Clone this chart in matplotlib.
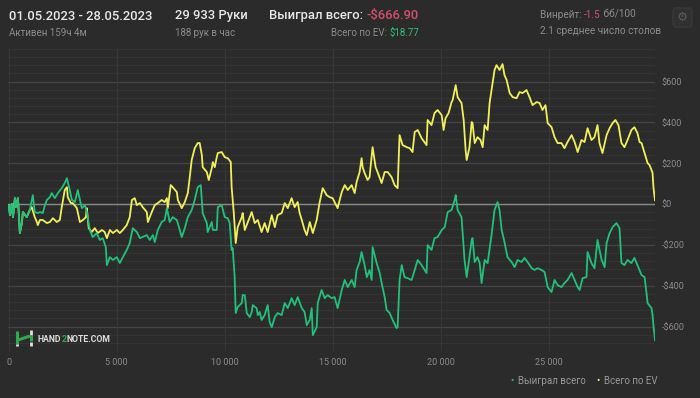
import matplotlib
matplotlib.use("Agg")
import matplotlib.pyplot as plt
from matplotlib.lines import Line2D
from matplotlib.patches import FancyBboxPatch

plt.rcParams['font.family'] = ['Roboto', 'DejaVu Sans']
plt.rcParams['text.parse_math'] = False

# ---------------- data ----------------
won_hands = [0, 50, 140, 190, 280, 320, 420, 510, 600, 650, 830, 970, 1110, 1200, 1340, 1440, 1570, 1670,
             1760, 1900, 1990, 2130, 2270, 2450, 2590, 2690, 2820, 2920, 3060, 3190, 3380, 3520, 3610, 3750,
             3890, 4070, 4210, 4350, 4490, 4540, 4680, 4820, 5000, 5140, 5280, 5460, 5600, 5740, 5930, 6070,
             6390, 6530, 6670, 6760, 6900, 7080, 7220, 7320, 7450, 7590, 7780, 7920, 8010, 8150, 8290, 8470,
             8610, 8750, 8890, 8980, 9170, 9210, 9400, 9450, 9630, 9680, 9860, 10000, 10140, 10230, 10320,
             10370, 10460, 10510, 10600, 10790, 10830, 10930, 11020, 11160, 11250, 11300, 11480, 11530, 11620,
             11710, 11850, 11990, 12080, 12180, 12320, 12450, 12640, 12780, 12920, 13100, 13240, 13380, 13570,
             13700, 13800, 13940, 14030, 14080, 14260, 14310, 14490, 14630, 14770, 14950, 15090, 15230, 15420,
             15560, 15700, 15880, 16020, 16110, 16250, 16340, 16480, 16580, 16710, 16810, 16850, 17040, 17180,
             17270, 17410, 17500, 17640, 17780, 17960, 18010, 18100, 18200, 18330, 18470, 18660, 18800, 18940,
             19120, 19260, 19350, 19400, 19580, 19720, 19860, 20050, 20190, 20330, 20510, 20650, 20700, 20790,
             20970, 21110, 21210, 21300, 21440, 21480, 21580, 21710, 21810, 21900, 22040, 22180, 22360, 22500,
             22640, 22730, 22830, 22960, 23100, 23290, 23430, 23570, 23750, 23890, 24030, 24220, 24350, 24490,
             24680, 24820, 24960, 25140, 25280, 25420, 25600, 25740, 25880, 26070, 26210, 26350, 26440, 26580,
             26760, 26810, 26990, 27130, 27270, 27460, 27600, 27690, 27830, 27970, 28150, 28290, 28380, 28520,
             28660, 28840, 28980, 29120, 29310, 29450, 29540, 29590, 29770, 29820, 29860, 29933]
won_usd = [-5, -54, 0, -64, 29, -15, 29, -142, -93, -39, -64, -29, 44, -39, -44, -39, -44, -5,
           20, 34, 54, 29, 54, 78, 103, 127, 69, 20, 10, 69, -20, -5, -39, -127,
           -162, -142, -176, -167, -211, -299, -260, -274, -260, -289, -260, -225, -191, -118, -137, -167,
           -152, -176, -152, -186, -127, -88, -78, -20, -88, -64, -78, -127, -162, -118, -64, -29,
           20, 83, 93, -44, -93, -137, -88, -127, -127, -15, -5, -64, -69, -93, -225,
           -216, -358, -534, -505, -485, -446, -446, -534, -554, -529, -495, -510, -544, -529,
           -568, -544, -495, -578, -603, -554, -534, -544, -485, -510, -461, -495, -456, -510,
           -529, -593, -568, -510, -642, -603, -485, -421, -461, -446, -461, -456, -510, -421,
           -372, -407, -372, -407, -323, -284, -235, -299, -358, -323, -372, -211, -289, -338,
           -387, -456, -519, -534, -568, -608, -603, -372, -299, -358, -363, -372, -323, -274,
           -299, -323, -338, -201, -225, -167, -162, -127, -113, -39, -29, 20, 44, -29,
           -64, -274, -358, -289, -176, -167, -284, -260, -289, -387, -274, -289, -152, -29,
           10, -29, -127, -186, -260, -284, -309, -274, -284, -264, -284, -314, -323, -314,
           -323, -333, -407, -431, -372, -397, -407, -387, -372, -338, -372, -407, -421, -363,
           -358, -235, -289, -314, -176, -274, -309, -191, -142, -113, -93, -118, -289, -299,
           -274, -289, -264, -299, -348, -358, -436, -485, -510, -544, -593, -666.90]

ev_hands = [0, 50, 140, 190, 280, 320, 420, 510, 600, 650, 830, 970, 1060, 1200, 1300, 1340, 1440, 1570,
            1760, 1900, 2040, 2220, 2360, 2450, 2590, 2690, 2730, 2870, 2960, 3150, 3290, 3430, 3570, 3610,
            3700, 3840, 3980, 4120, 4310, 4440, 4540, 4680, 4820, 5000, 5140, 5280, 5460, 5600, 5700, 5830,
            5930, 6070, 6200, 6390, 6440, 6620, 6760, 6900, 7080, 7220, 7320, 7360, 7500, 7590, 7780, 7830,
            8010, 8150, 8290, 8380, 8470, 8610, 8750, 8840, 8940, 8980, 9170, 9260, 9400, 9450, 9540, 9630,
            9680, 9860, 10000, 10140, 10280, 10320, 10420, 10510, 10600, 10790, 10830, 10930, 11070, 11250,
            11390, 11530, 11710, 11850, 11990, 12180, 12320, 12450, 12640, 12780, 12920, 13100, 13240, 13380,
            13470, 13570, 13700, 13800, 13940, 14080, 14260, 14400, 14540, 14720, 14860, 15000, 15230, 15420,
            15560, 15700, 15880, 16020, 16110, 16250, 16340, 16390, 16480, 16620, 16710, 16850, 16990, 17080,
            17270, 17410, 17550, 17730, 17870, 18010, 18100, 18240, 18430, 18570, 18700, 18800, 18940, 19120,
            19350, 19400, 19580, 19720, 19860, 20050, 20140, 20230, 20370, 20510, 20560, 20700, 20790, 20970,
            21070, 21160, 21210, 21340, 21440, 21480, 21580, 21710, 21850, 21950, 22040, 22180, 22270, 22410,
            22500, 22590, 22730, 22870, 22960, 23060, 23200, 23340, 23520, 23660, 23800, 23980, 24120, 24260,
            24450, 24590, 24720, 24860, 24960, 25140, 25280, 25420, 25600, 25740, 25880, 26070, 26210, 26350,
            26530, 26670, 26810, 26990, 27130, 27270, 27360, 27500, 27690, 27830, 27970, 28100, 28240, 28380,
            28520, 28660, 28840, 28980, 29120, 29220, 29310, 29450, 29590, 29680, 29770, 29820, 29860, 29933]
ev_usd = [-5, -54, 0, -64, 29, -15, 29, -142, -93, -39, -64, -29, -15, -64, -88, -103, -78, -78,
          -93, -88, -69, -88, -78, -15, 69, 83, 34, 5, 5, -20, -88, -78, -64, -20,
          -118, -137, -118, -142, -127, -137, -167, -127, -142, -127, -142, -127, -103, -64, 20, 29,
          -5, 5, -15, -39, -88, -39, -5, 5, 20, 10, 29, -20, 93, 83, 59, 20,
          -20, 10, 54, 132, 216, 274, 299, 299, 240, 181, 157, 118, 176, 206, 181, 230,
          250, 255, 230, 225, 206, 83, -44, -191, -113, -64, -44, -127, -88, -39,
          -93, -78, -137, -93, -137, -54, -113, -54, -44, 5, -20, 29, -15, 10,
          -44, -78, -127, -152, -88, -142, -78, 10, 78, 44, 34, 29, -20, 59,
          93, 69, 93, 54, 108, 157, 225, 181, 152, 118, 132, 279, 181, 157,
          103, 157, 157, 132, 93, 78, 338, 289, 279, 274, 255, 353, 363, 323,
          289, 412, 387, 446, 461, 436, 363, 421, 446, 500, 510, 583, 524, 495,
          412, 265, 216, 279, 402, 397, 299, 328, 314, 279, 387, 363, 495, 593,
          657, 681, 657, 686, 632, 608, 544, 524, 519, 549, 544, 559, 524, 485,
          500, 495, 461, 485, 397, 377, 328, 299, 299, 274, 304, 338, 304, 255,
          314, 304, 372, 314, 328, 387, 299, 250, 338, 372, 397, 412, 387, 299,
          279, 314, 363, 377, 348, 304, 299, 250, 201, 191, 167, 152, 83, 18.77]

x_ticks = [0, 5000, 10000, 15000, 20000, 25000]
x_tick_labels = ["0", "5 000", "10 000", "15 000", "20 000", "25 000"]
y_ticks = [-600, -400, -200, 0, 200, 400, 600]
y_tick_labels = ["-$600", "-$400", "-$200", "$0", "$200", "$400", "$600"]
series_names = ["Выиграл всего", "Всего по EV"]

# ---------------- style ----------------
W, H = 700, 398
BG = '#2b2b2b'
GREEN = '#22c07c'
YELLOW = '#f0f05a'
GRAY = '#8c8c8c'
WHITE = '#e8e8e8'
RED = '#d4506e'
EVGREEN = '#2ec27e'

fig = plt.figure(figsize=(W / 100, H / 100), dpi=100, facecolor=BG)

def fx(px):
    return px / W

def fy(py):
    return 1 - py / H

ax = fig.add_axes([fx(8), fy(351), (655 - 8) / W, (351 - 49) / H])
ax.set_facecolor(BG)
ymin, ymax = -720, 760
ax.set_xlim(-40, 29933)
ax.set_ylim(ymin, ymax)
for s in ax.spines.values():
    s.set_visible(False)

# horizontal grid lines every $40, brighter every $200
v = ymin
while v <= ymax:
    if v == 0:
        pass
    elif v % 200 == 0:
        ax.axhline(v, color='#454545', lw=0.9, zorder=1)
    else:
        ax.axhline(v, color='#343434', lw=0.7, zorder=1)
    v += 40
ax.axhline(0, color='#8a8a8a', lw=1.0, zorder=2)
for xv in x_ticks:
    ax.axvline(xv, color='#383838', lw=0.7, zorder=1)
ax.axvline(29933, color='#383838', lw=0.7, zorder=1)

ax.plot(ev_hands, ev_usd, color=YELLOW, lw=1.3, zorder=3, solid_joinstyle='round')
ax.plot(won_hands, won_usd, color=GREEN, lw=1.3, zorder=4, solid_joinstyle='round')

ax.set_xticks(x_ticks)
ax.set_xticklabels(x_tick_labels)
ax.set_yticks(y_ticks)
ax.set_yticklabels(y_tick_labels)
ax.yaxis.tick_right()
ax.tick_params(axis='x', length=0, pad=5, labelsize=6.5, labelcolor=GRAY)
ax.tick_params(axis='y', length=0, pad=5, labelsize=6.5, labelcolor=GRAY)
for lab in ax.get_yticklabels():
    lab.set_horizontalalignment('left')

# ---------------- header ----------------
fig.canvas.draw()
renderer = fig.canvas.get_renderer()

def seg_text(px, py, parts, size, ha='left', weight='normal'):
    if ha == 'left':
        x = px
        for txt, col in parts:
            t = fig.text(fx(x), fy(py), txt, color=col, fontsize=size, va='center', ha='left', weight=weight)
            x += t.get_window_extent(renderer).width
    else:
        x = px
        for txt, col in reversed(parts):
            t = fig.text(fx(x), fy(py), txt, color=col, fontsize=size, va='center', ha='right', weight=weight)
            x -= t.get_window_extent(renderer).width

fig.text(fx(9), fy(16), "01.05.2023 - 28.05.2023", color=WHITE, fontsize=9.4, va='center', weight='medium')
fig.text(fx(9), fy(33), "Активен 159ч 4м", color=GRAY, fontsize=7, va='center')
fig.text(fx(175), fy(16), "29 933 Руки", color=WHITE, fontsize=9.4, va='center', weight='medium')
fig.text(fx(175), fy(33), "188 рук в час", color=GRAY, fontsize=7, va='center')
seg_text(419, 16, [("Выиграл всего: ", WHITE), ("-$666.90", RED)], 9.4, ha='right', weight='medium')
seg_text(419, 33, [("Всего по EV: ", GRAY), ("$18.77", EVGREEN)], 7, ha='right')
seg_text(540, 15, [("Винрейт: ", GRAY), ("-1.5", RED), (" бб/100", GRAY)], 7.2, ha='left')
fig.text(fx(540), fy(31), "2.1 среднее число столов", color=GRAY, fontsize=7.2, va='center')

# ---------------- overlay (gear box, logo) ----------------
ov = fig.add_axes([0, 0, 1, 1], facecolor='none')
ov.set_xlim(0, W)
ov.set_ylim(H, 0)
ov.axis('off')
ov.add_patch(FancyBboxPatch((673, 8), 19, 19, boxstyle='round,pad=0,rounding_size=3',
                            facecolor='#303030', edgecolor='#3c3c3c', lw=0.8))
ov.text(682.5, 17.5, "⚙", family='DejaVu Sans', color='#5a5a5a', fontsize=9, ha='center', va='center')

# logo icon
ov.add_line(Line2D([17, 17], [331, 344], color='#2fa84f', lw=2.2, solid_capstyle='butt'))
ov.add_line(Line2D([31, 31], [330, 335], color='#e0e0e0', lw=2.0, solid_capstyle='butt'))
ov.add_line(Line2D([18, 30], [340, 336], color='#2fa84f', lw=2.2, solid_capstyle='butt'))
ov.add_line(Line2D([31, 31], [335, 341], color='#2fa84f', lw=2.2, solid_capstyle='butt'))
ov.add_line(Line2D([31, 31], [342, 346], color='#e0e0e0', lw=2.0, solid_capstyle='butt'))
ov.add_line(Line2D([17, 17], [344, 346], color='#e0e0e0', lw=2.0, solid_capstyle='butt'))
fig.canvas.draw()
x = 38
for txt, col in [("HAND", '#dcdcdc'), ("2", '#2fa84f'), ("NOTE.COM", '#dcdcdc')]:
    t = ov.text(x, 339, txt, color=col, fontsize=6.3, weight='bold', ha='left', va='center')
    bb = t.get_window_extent(renderer)
    x += bb.width

# ---------------- legend ----------------
fig.text(fx(512), fy(381), "•", color=GREEN, fontsize=7, va='center', ha='center')
fig.text(fx(518), fy(381), series_names[0], color='#9a9a9a', fontsize=7, va='center')
fig.text(fx(598), fy(381), "•", color=YELLOW, fontsize=7, va='center', ha='center')
fig.text(fx(604), fy(381), series_names[1], color='#9a9a9a', fontsize=7, va='center')

fig.savefig("out.png", dpi=100, facecolor=BG)
